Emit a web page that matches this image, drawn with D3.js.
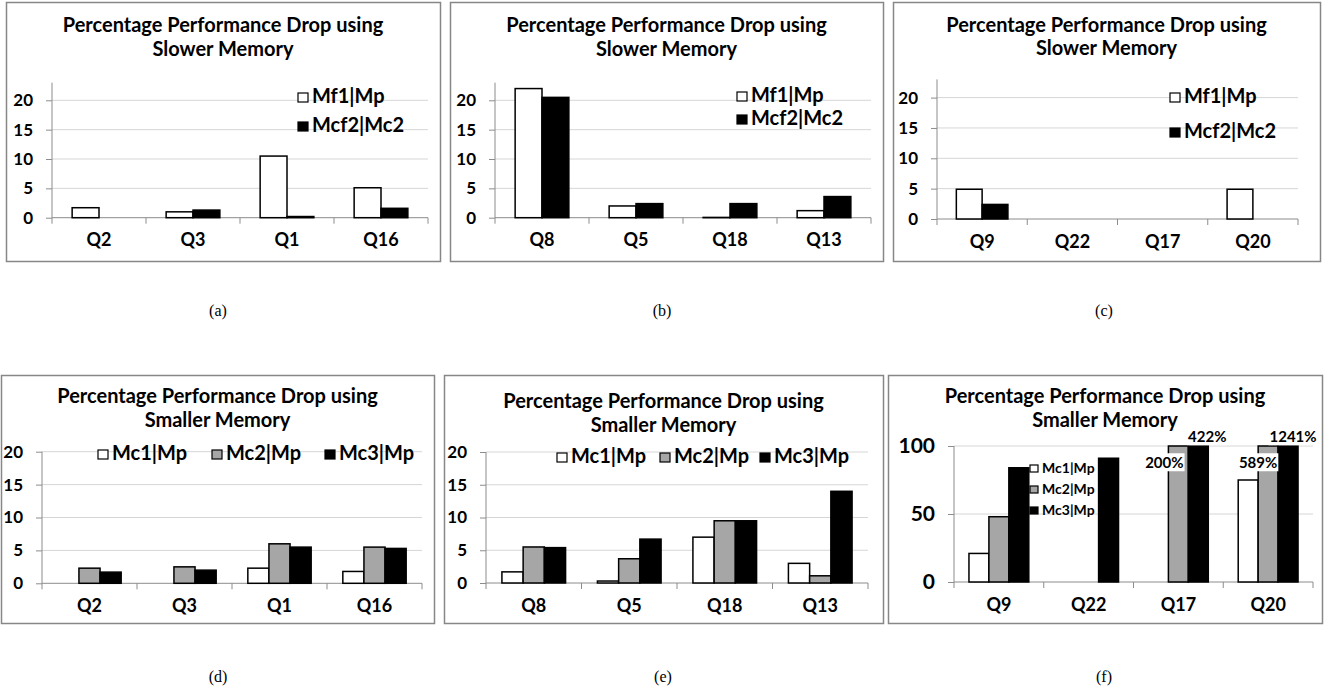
<!DOCTYPE html>
<html><head><meta charset="utf-8">
<script src="https://cdn.jsdelivr.net/npm/d3@7"></script>
<style>body{margin:0;background:#fff}svg{display:block}</style>
</head><body><svg id="c" width="1332" height="691"></svg>
<script>
// ---------------- data ----------------
const titleSlower = ["Percentage Performance Drop using", "Slower Memory"];
const titleSmaller = ["Percentage Performance Drop using", "Smaller Memory"];
const seriesSlower = ["Mf1|Mp", "Mcf2|Mc2"];
const seriesSmaller = ["Mc1|Mp", "Mc2|Mp", "Mc3|Mp"];
const catsA = ["Q2", "Q3", "Q1", "Q16"];
const catsB = ["Q8", "Q5", "Q18", "Q13"];
const catsC = ["Q9", "Q22", "Q17", "Q20"];
const aMf1 = [1.7, 1.0, 10.5, 5.1];
const aMcf2 = [0, 1.3, 0.2, 1.6];
const bMf1 = [22.0, 2.0, 0.05, 1.2];
const bMcf2 = [20.5, 2.4, 2.4, 3.6];
const cMf1 = [4.9, 0, 0, 4.9];
const cMcf2 = [2.4, 0, 0, 0];
const dMc1 = [0, 0, 2.3, 1.8];
const dMc2 = [2.3, 2.5, 6.0, 5.5];
const dMc3 = [1.7, 2.0, 5.5, 5.3];
const eMc1 = [1.7, 0.3, 7.0, 3.0];
const eMc2 = [5.5, 3.7, 9.5, 1.1];
const eMc3 = [5.4, 6.7, 9.5, 14.0];
const fMc1 = [21, 0, 0, 75];
const fMc2 = [48, 0, 200, 589];
const fMc3 = [84, 91, 422, 1241];
const ticks20 = [0, 5, 10, 15, 20];
const ticks100 = [0, 50, 100];
const captions = ["(a)", "(b)", "(c)", "(d)", "(e)", "(f)"];

// ---------------- styles ----------------
const FONT = "Lato, 'Open Sans', sans-serif";
const fills2 = ["#ffffff", "#000000"];
const fills3 = ["#ffffff", "#a6a6a6", "#000000"];
const frameColor = "#878787", axisColor = "#8c8c8c", gridColor = "#d6d6d6";

const svg = d3.select("#c");

const panels = [
  { cats: catsA, series: seriesSlower, values: [aMf1, aMcf2], fills: fills2, title: titleSlower, ticks: ticks20, ymax: 23,
    frame: [6, 2, 440, 261], px: [52, 428], py: [217.7, 82.7], titleY: [32, 56], caption: [218, 316],
    legend: { type: "v", x: 298, ys: [103, 132], size: 20, sq: 10 } },
  { cats: catsB, series: seriesSlower, values: [bMf1, bMcf2], fills: fills2, title: titleSlower, ticks: ticks20, ymax: 23,
    frame: [450, 2, 883, 261], px: [495, 871], py: [217.7, 82.7], titleY: [32, 56], caption: [662, 316],
    legend: { type: "v", x: 737, ys: [102, 125], size: 20, sq: 10 } },
  { cats: catsC, series: seriesSlower, values: [cMf1, cMcf2], fills: fills2, title: titleSlower, ticks: ticks20, ymax: 23,
    frame: [893, 2, 1320, 261], px: [937, 1298], py: [219, 79.4], titleY: [32, 55], caption: [1104, 316],
    legend: { type: "v", x: 1170, ys: [103, 138], size: 20, sq: 10 } },
  { cats: catsA, series: seriesSmaller, values: [dMc1, dMc2, dMc3], fills: fills3, title: titleSmaller, ticks: ticks20, ymax: 20,
    frame: [1, 375, 434, 623], px: [42, 422], py: [583.3, 451.7], titleY: [403, 427], caption: [218, 682],
    legend: { type: "h", xs: [98, 212, 325], y: 460, size: 20, sq: 10 } },
  { cats: catsB, series: seriesSmaller, values: [eMc1, eMc2, eMc3], fills: fills3, title: titleSmaller, ticks: ticks20, ymax: 20,
    frame: [444, 375, 883, 623], px: [486, 868], py: [583, 452], titleY: [408, 432], caption: [663, 682],
    legend: { type: "h", xs: [557, 660, 760], y: 463, size: 20, sq: 10 } },
  { cats: catsC, series: seriesSmaller, values: [fMc1, fMc2, fMc3], fills: fills3, title: titleSmaller, ticks: ticks100, ymax: 100,
    frame: [888, 375, 1322, 623], px: [954, 1313], py: [582, 446], titleY: [403, 427], caption: [1104, 682],
    legend: { type: "v", x: 1030, ys: [473, 494, 515], size: 14, sq: 8 }, tickFont: 21, overflowLabels: true }
];

// offsets of the out-of-range data labels in panel (f) (dx from bar centre, dy from plot top)
const labelOffsets = { "2-1": [-14, 17], "2-2": [9, -9], "3-1": [-10, 17], "3-2": [5, -9] };

panels.forEach((p, pi) => {
  const g = svg.append("g");
  const [fx0, fy0, fx1, fy1] = p.frame;
  g.append("rect").attr("x", fx0 + 0.5).attr("y", fy0 + 0.5).attr("width", fx1 - fx0).attr("height", fy1 - fy0)
    .attr("fill", "#fff").attr("stroke", frameColor).attr("stroke-width", 1.5);

  // title
  g.append("text").attr("x", (fx0 + fx1) / 2).attr("text-anchor", "middle")
    .attr("font-family", FONT).attr("font-weight", "bold").attr("font-size", 20).attr("fill", "#000")
    .selectAll("tspan").data(p.title).join("tspan")
    .attr("x", (fx0 + fx1) / 2).attr("y", (d, i) => p.titleY[i]).text(d => d);

  const n = p.series.length;
  const x0 = d3.scaleBand().domain(p.cats).range(p.px).paddingInner(0).paddingOuter(0);
  const bw = x0.bandwidth() / (n + 1.5);
  const x1 = d3.scaleBand().domain(d3.range(n)).range([0.75 * bw, 0.75 * bw + n * bw]);
  const y = d3.scaleLinear().domain([0, p.ymax]).range(p.py);
  const yc = d3.scaleLinear().domain([0, p.ymax]).range(p.py).clamp(true);

  // gridlines
  g.append("g").selectAll("line").data(p.ticks.filter(t => t > 0)).join("line")
    .attr("x1", p.px[0]).attr("x2", p.px[1]).attr("y1", d => y(d)).attr("y2", d => y(d))
    .attr("stroke", gridColor).attr("stroke-width", 1);

  // y axis
  const yAxis = d3.axisLeft(y).tickValues(p.ticks).tickSizeInner(6).tickSizeOuter(0).tickPadding(13);
  const ya = g.append("g").attr("transform", `translate(${p.px[0]},0)`).call(yAxis);
  ya.select(".domain").remove();
  ya.selectAll(".tick line").attr("stroke", axisColor);
  ya.selectAll(".tick text").attr("font-family", FONT).attr("font-weight", "bold")
    .attr("font-size", p.tickFont || 17).attr("fill", "#000");
  g.append("line").attr("x1", p.px[0]).attr("x2", p.px[0]).attr("y1", y(p.ymax)).attr("y2", y(0) + 6)
    .attr("stroke", axisColor);

  // x axis
  const xAxis = d3.axisBottom(x0).tickSize(0).tickPadding(16);
  const xa = g.append("g").attr("transform", `translate(0,${y(0)})`).call(xAxis);
  xa.select(".domain").remove();
  xa.selectAll(".tick text").attr("font-family", FONT).attr("font-weight", "bold").attr("font-size", 18).attr("fill", "#000");
  g.append("line").attr("x1", p.px[0]).attr("x2", p.px[1]).attr("y1", y(0)).attr("y2", y(0)).attr("stroke", axisColor);
  g.append("g").selectAll("line").data(p.cats.slice(1).map(c => x0(c)).concat([p.px[1]])).join("line")
    .attr("x1", d => d).attr("x2", d => d).attr("y1", y(0)).attr("y2", y(0) + 6).attr("stroke", axisColor);

  // bars
  const rows = [];
  p.cats.forEach((c, ci) => p.series.forEach((s, si) => rows.push({ c, ci, si, v: p.values[si][ci] })));
  g.append("g").selectAll("rect").data(rows.filter(r => r.v > 0)).join("rect")
    .attr("x", r => x0(r.c) + x1(r.si)).attr("width", x1.bandwidth())
    .attr("y", r => yc(r.v)).attr("height", r => Math.max(0.3, y(0) - yc(r.v)))
    .attr("fill", r => p.fills[r.si]).attr("stroke", "#000").attr("stroke-width", 1.5);

  // overflow labels
  if (p.overflowLabels) {
    const over = rows.filter(r => r.v > p.ymax);
    const lg = g.append("g").selectAll("g").data(over).join("g")
      .attr("transform", r => {
        const o = labelOffsets[r.ci + "-" + r.si];
        return `translate(${x0(r.c) + x1(r.si) + x1.bandwidth() / 2 + o[0]},${y(p.ymax) + o[1]})`;
      });
    const txt = lg.append("text").attr("text-anchor", "middle").attr("dy", "0.35em")
      .attr("font-family", FONT).attr("font-weight", "bold").attr("font-size", 15).attr("fill", "#000")
      .text(r => r.v + "%");
    txt.each(function () {
      const b = this.getBBox();
      d3.select(this.parentNode).insert("rect", "text").attr("x", b.x - 1).attr("y", b.y)
        .attr("width", b.width + 2).attr("height", b.height).attr("fill", "#fff");
    });
  }

  // legend
  const L = p.legend;
  p.series.forEach((s, si) => {
    const lx = L.type === "v" ? L.x : L.xs[si];
    const ly = L.type === "v" ? L.ys[si] : L.y;
    g.append("rect").attr("x", lx).attr("y", ly - L.sq).attr("width", L.sq).attr("height", L.sq - 1)
      .attr("fill", p.fills[si]).attr("stroke", "#000").attr("stroke-width", 1.2);
    g.append("text").attr("x", lx + L.sq + 4).attr("y", ly).attr("font-family", FONT).attr("font-weight", "bold")
      .attr("font-size", L.size).attr("fill", "#000").text(s);
  });

  // caption
  svg.append("text").attr("x", p.caption[0]).attr("y", p.caption[1]).attr("text-anchor", "middle")
    .attr("font-family", "'Liberation Serif', 'Times New Roman', serif").attr("font-size", 16).attr("fill", "#000")
    .text(captions[pi]);
});
</script>
</body></html>
